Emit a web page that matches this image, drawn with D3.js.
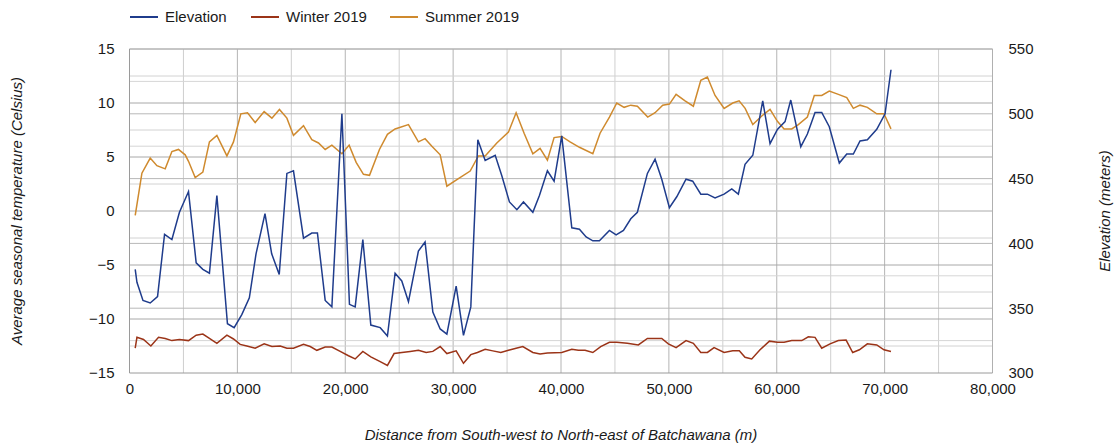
<!DOCTYPE html>
<html>
<head>
<meta charset="utf-8">
<script src="https://cdn.jsdelivr.net/npm/d3@7"></script>
<style>
  body { margin: 0; background: #fff; }
  svg text { font-family: "Liberation Sans", Arial, sans-serif; fill: #1a1a1a; }
</style>
</head>
<body>
<div id="chart"></div>
<script>
const width = 1117;
const height = 445;

// data: distance (m) and value
const summerDist = [530,1150,1920,2540,3310,3930,4540,5160,5470,6090,6800,7410,8100,9030,9640,10320,10940,11650,12480,13200,13900,14590,15200,16130,16900,17520,18140,18760,19690,20360,21010,21690,22250,23170,23910,24620,25860,26780,27400,28030,28800,29420,30490,31580,32340,32970,34050,35130,35840,36580,37390,38060,38740,39360,40070,40840,41710,42950,43620,44490,45170,45850,46470,47080,48040,48720,49430,50050,50670,51500,52270,52960,53570,54280,55120,55920,56510,57070,57780,58610,59380,60060,60680,61390,62000,62840,63480,64170,64870,65710,66490,67100,67720,68400,69270,69940,70590];
const summerTemp = [-0.4,3.5,4.9,4.2,3.9,5.5,5.7,5.2,4.6,3.1,3.6,6.4,7.0,5.1,6.4,9.0,9.1,8.2,9.2,8.6,9.4,8.6,7.0,7.9,6.6,6.3,5.7,6.1,5.3,6.1,4.5,3.4,3.3,5.7,7.1,7.6,8.0,6.4,6.7,6.0,5.2,2.3,3.0,3.7,5.1,5.1,6.3,7.3,9.1,7.2,5.3,5.8,4.7,6.8,6.9,6.4,5.9,5.3,7.2,8.7,10.0,9.6,9.8,9.7,8.7,9.1,9.8,9.9,10.8,10.2,9.7,12.1,12.4,10.7,9.5,10.0,10.2,9.5,8.0,8.8,9.4,8.3,7.6,7.6,8.0,8.7,10.7,10.7,11.1,10.8,10.5,9.5,9.8,9.6,9.0,9.0,7.6];

const winterDist = [530,690,1300,1980,2690,3310,3930,4630,5470,6180,6800,7410,8100,9030,9640,10260,10880,11650,12480,13200,13970,14590,15200,16130,16750,17370,18140,18760,19530,20300,20920,21630,22370,23240,23910,24530,25250,26020,26780,27500,28120,28800,29420,30280,30960,31640,32250,32970,33680,34420,35130,35840,36460,37390,38060,38740,40070,41000,41610,42230,42950,43680,44490,45170,46150,47170,48010,48720,49340,49950,50670,51590,52270,52960,53570,54190,55120,55920,56530,57060,57680,58450,59320,60060,60680,61390,62320,62930,63550,64170,64940,65710,66430,67040,67660,68400,69270,69940,70590];
const winterTemp = [-12.7,-11.7,-11.9,-12.5,-11.7,-11.8,-12.0,-11.9,-12.0,-11.5,-11.4,-11.8,-12.25,-11.5,-11.85,-12.35,-12.5,-12.7,-12.3,-12.55,-12.5,-12.7,-12.7,-12.35,-12.55,-12.9,-12.6,-12.6,-13.0,-13.4,-13.7,-13.0,-13.5,-13.95,-14.3,-13.2,-13.1,-13.0,-12.9,-13.1,-13.0,-12.55,-13.2,-12.95,-14.1,-13.3,-13.1,-12.8,-12.95,-13.1,-12.9,-12.7,-12.55,-13.1,-13.25,-13.15,-13.1,-12.8,-12.9,-12.9,-13.1,-12.55,-12.15,-12.15,-12.25,-12.4,-11.8,-11.8,-11.8,-12.3,-12.65,-12.0,-12.25,-13.1,-13.1,-12.65,-13.1,-12.95,-12.95,-13.55,-13.7,-12.85,-12.05,-12.15,-12.15,-12.0,-12.0,-11.65,-11.7,-12.7,-12.3,-12.0,-11.95,-13.1,-12.85,-12.3,-12.4,-12.85,-13.0];

const elevDist = [530,690,1250,1920,2600,3250,3930,4630,5470,6180,6800,7410,8100,9080,9700,10410,11110,11730,12560,13180,13880,14590,15200,16130,16900,17420,18140,18760,19690,20390,20920,21630,22370,23240,23910,24620,25240,25860,26780,27400,28120,28800,29420,30280,30960,31640,32290,32970,33900,34520,35220,35910,36520,37390,38000,38740,39360,40070,41000,41710,42330,42950,43560,44490,45110,45790,46470,47080,48010,48720,49340,50050,50730,51590,52210,52960,53570,54280,55120,55830,56440,57060,57780,58700,59380,60060,60770,61300,62230,62840,63550,64170,64870,65800,66490,67100,67720,68400,69270,70040,70590];
const elevMeters = [380,370,356,354,359,407,403,424,440,385,380,377,437,338,335,345,358,392,423,392,376,454,456,404,408,408,356,351,500,353,351,403,337,335,328.5,377,371,355,394,401,347,334,330,367,329,351,480,464,468,452,432,426,432,424,437,456,448,483,412,411,405,402,402,410,406.5,410,419,424,454,465,449.5,427.5,436,449.5,448,438,438,435,438,442,438,461,468,510,477,488,494,510.6,474.6,484.4,501,501,490,462,469,469,479,480,488,500,534];

const xTicks = [0,10000,20000,30000,40000,50000,60000,70000,80000];
const leftTicks = [15,10,5,0,-5,-10,-15];
const rightTicks = [550,500,450,400,350,300];

const seriesNames = ["Elevation", "Winter 2019", "Summer 2019"];
const seriesColors = ["#1f3c8c", "#9b3418", "#cf8a2e"];

const plot = { left: 129.5, right: 992.5, top: 49, bottom: 373 };

const svg = d3.select("#chart").append("svg")
    .attr("width", width)
    .attr("height", height);

const x = d3.scaleLinear().domain([0, 80000]).range([plot.left, plot.right]);
const yL = d3.scaleLinear().domain([-15, 15]).range([plot.bottom, plot.top]);
const yR = d3.scaleLinear().domain([300, 550]).range([plot.bottom, plot.top]);

// gridlines
const grid = svg.append("g");
grid.selectAll("line.vx")
    .data(d3.range(5000, 80000, 5000))
    .enter().append("line")
    .attr("x1", d => x(d)).attr("x2", d => x(d))
    .attr("y1", plot.top).attr("y2", plot.bottom)
    .attr("stroke", d => d % 10000 == 0 ? "#b4b4b4" : "#cfcfcf")
    .attr("stroke-width", 1);

grid.selectAll("line.hl")
    .data(d3.range(-12.5, 15.1, 2.5))
    .enter().append("line")
    .attr("x1", plot.left).attr("x2", plot.right)
    .attr("y1", d => yL(d)).attr("y2", d => yL(d))
    .attr("stroke", d => d % 5 == 0 ? "#a8a8a8" : "#d2d2d2")
    .attr("stroke-width", 1);

grid.selectAll("line.hr")
    .data(d3.range(325, 551, 25))
    .enter().append("line")
    .attr("x1", plot.left).attr("x2", plot.right)
    .attr("y1", d => yR(d)).attr("y2", d => yR(d))
    .attr("stroke", d => d % 50 == 0 ? "#b8b8b8" : "#d6d6d6")
    .attr("stroke-width", 1);

// frame
svg.append("line").attr("x1", plot.left).attr("x2", plot.left)
    .attr("y1", plot.top).attr("y2", plot.bottom).attr("stroke", "#9a9a9a");
svg.append("line").attr("x1", plot.right).attr("x2", plot.right)
    .attr("y1", plot.top).attr("y2", plot.bottom).attr("stroke", "#b0b0b0");
svg.append("line").attr("x1", plot.left).attr("x2", plot.right)
    .attr("y1", plot.bottom).attr("y2", plot.bottom).attr("stroke", "#9a9a9a");

// axes
const fmt = d3.format(",");
svg.append("g")
    .attr("transform", "translate(0," + plot.bottom + ")")
    .call(d3.axisBottom(x).tickValues(xTicks).tickFormat(fmt).tickSize(0).tickPadding(10))
    .call(g => g.select(".domain").remove())
    .selectAll("text").style("font-size", "15px").attr("fill", "#1a1a1a");

svg.append("g")
    .attr("transform", "translate(" + plot.left + ",0)")
    .call(d3.axisLeft(yL).tickValues(leftTicks).tickSize(0).tickPadding(15))
    .call(g => g.select(".domain").remove())
    .selectAll("text").style("font-size", "15px").attr("fill", "#1a1a1a");

svg.append("g")
    .attr("transform", "translate(" + plot.right + ",0)")
    .call(d3.axisRight(yR).tickValues(rightTicks).tickSize(0).tickPadding(16))
    .call(g => g.select(".domain").remove())
    .selectAll("text").style("font-size", "15px").attr("fill", "#1a1a1a");

// axis titles
svg.append("text")
    .attr("transform", "translate(22," + ((plot.top + plot.bottom) / 2) + ") rotate(-90)")
    .attr("text-anchor", "middle")
    .style("font-size", "15px").style("font-style", "italic")
    .text("Average seasonal temperature (Celsius)");

svg.append("text")
    .attr("transform", "translate(1110," + ((plot.top + plot.bottom) / 2) + ") rotate(-90)")
    .attr("text-anchor", "middle")
    .style("font-size", "15px").style("font-style", "italic")
    .text("Elevation (meters)");

svg.append("text")
    .attr("x", (plot.left + plot.right) / 2)
    .attr("y", 440)
    .attr("text-anchor", "middle")
    .style("font-size", "15px").style("font-style", "italic")
    .text("Distance from South-west to North-east of Batchawana (m)");

// series
const lineL = d3.line().x(d => x(d[0])).y(d => yL(d[1]));
const lineR = d3.line().x(d => x(d[0])).y(d => yR(d[1]));

const elevData = d3.zip(elevDist, elevMeters);
const winterData = d3.zip(winterDist, winterTemp);
const summerData = d3.zip(summerDist, summerTemp);

svg.append("path").datum(summerData)
    .attr("d", lineL).attr("fill", "none")
    .attr("stroke", seriesColors[2]).attr("stroke-width", 1.5);
svg.append("path").datum(winterData)
    .attr("d", lineL).attr("fill", "none")
    .attr("stroke", seriesColors[1]).attr("stroke-width", 1.5);
svg.append("path").datum(elevData)
    .attr("d", lineR).attr("fill", "none")
    .attr("stroke", seriesColors[0]).attr("stroke-width", 1.5);

// legend
const legendX = [130, 251, 390];
const legend = svg.append("g");
seriesNames.forEach(function (name, i) {
    legend.append("line")
        .attr("x1", legendX[i]).attr("x2", legendX[i] + 28)
        .attr("y1", 17).attr("y2", 17)
        .attr("stroke", seriesColors[i]).attr("stroke-width", 2);
    legend.append("text")
        .attr("x", legendX[i] + 35).attr("y", 22)
        .style("font-size", "15px")
        .text(name);
});
</script>
</body>
</html>
